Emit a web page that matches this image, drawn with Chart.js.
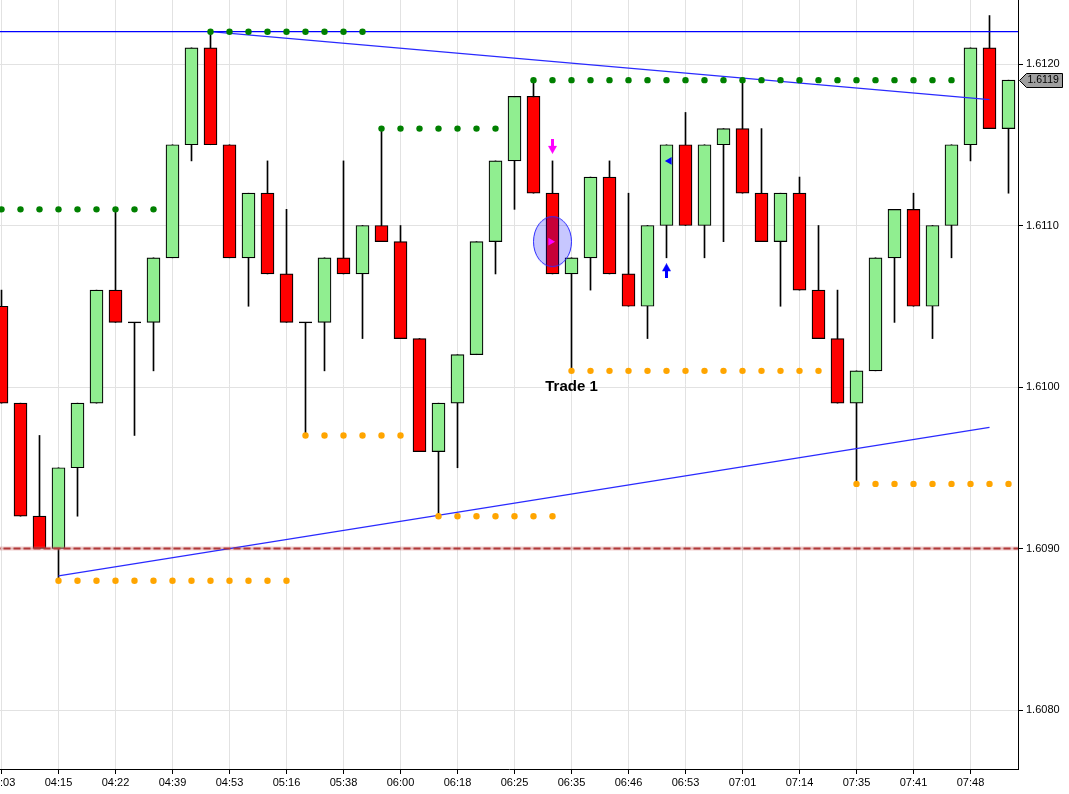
<!DOCTYPE html>
<html>
<head>
<meta charset="utf-8">
<script src="https://cdn.jsdelivr.net/npm/chart.js@4.4.1/dist/chart.umd.min.js"></script>
<style>
  html, body { margin: 0; padding: 0; background: #fff; }
  #wrap { position: relative; width: 1069px; height: 794px; }
</style>
</head>
<body>
<div id="wrap"><canvas id="chart"></canvas></div>
<script>
// 7-pip range bars, one entry per bar
const timeLabels = ['04:03', '04:15', '04:22', '04:39', '04:53', '05:16', '05:38', '06:00', '06:18',
                    '06:25', '06:35', '06:46', '06:53', '07:01', '07:14', '07:35', '07:41', '07:48'];
const labelBars = [0, 3, 6, 9, 12, 15, 18, 21, 24, 27, 30, 33, 36, 39, 42, 45, 48, 51];

const opens = [1.6105, 1.6099, 1.6092, 1.6090, 1.6095, 1.6099, 1.6106, 1.6104, 1.6104, 1.6108,
               1.6115, 1.6121, 1.6115, 1.6108, 1.6112, 1.6107, 1.6104, 1.6104, 1.6108, 1.6107,
               1.6110, 1.6109, 1.6103, 1.6096, 1.6099, 1.6102, 1.6109, 1.6114, 1.6118, 1.6112,
               1.6107, 1.6108, 1.6113, 1.6107, 1.6105, 1.6110, 1.6115, 1.6110, 1.6115, 1.6116,
               1.6112, 1.6109, 1.6112, 1.6106, 1.6103, 1.6099, 1.6101, 1.6108, 1.6111, 1.6105,
               1.6110, 1.6115, 1.6121, 1.6116];
const highs = [1.6106, 1.6099, 1.6097, 1.6095, 1.6099, 1.6106, 1.6111, 1.6104, 1.6108, 1.6115,
               1.6121, 1.6122, 1.6115, 1.6112, 1.6114, 1.6111, 1.6104, 1.6108, 1.6114, 1.6110,
               1.6116, 1.6110, 1.6103, 1.6099, 1.6102, 1.6109, 1.6114, 1.6118, 1.6119, 1.6114,
               1.6108, 1.6113, 1.6114, 1.6112, 1.6110, 1.6115, 1.6117, 1.6115, 1.6116, 1.6119,
               1.6116, 1.6112, 1.6113, 1.6110, 1.6106, 1.6101, 1.6108, 1.6111, 1.6112, 1.6110,
               1.6115, 1.6121, 1.6123, 1.6119];
const lows = [1.6099, 1.6092, 1.6090, 1.6088, 1.6092, 1.6099, 1.6104, 1.6097, 1.6101, 1.6108,
              1.6114, 1.6115, 1.6108, 1.6105, 1.6107, 1.6104, 1.6097, 1.6101, 1.6107, 1.6103,
              1.6109, 1.6103, 1.6096, 1.6092, 1.6095, 1.6102, 1.6107, 1.6111, 1.6112, 1.6107,
              1.6101, 1.6106, 1.6107, 1.6105, 1.6103, 1.6108, 1.6110, 1.6108, 1.6109, 1.6112,
              1.6109, 1.6105, 1.6106, 1.6103, 1.6099, 1.6094, 1.6101, 1.6104, 1.6105, 1.6103,
              1.6108, 1.6114, 1.6116, 1.6112];
const closes = [1.6099, 1.6092, 1.6090, 1.6095, 1.6099, 1.6106, 1.6104, 1.6104, 1.6108, 1.6115,
                1.6121, 1.6115, 1.6108, 1.6112, 1.6107, 1.6104, 1.6104, 1.6108, 1.6107, 1.6110,
                1.6109, 1.6103, 1.6096, 1.6099, 1.6102, 1.6109, 1.6114, 1.6118, 1.6112, 1.6107,
                1.6108, 1.6113, 1.6107, 1.6105, 1.6110, 1.6115, 1.6110, 1.6115, 1.6116, 1.6112,
                1.6109, 1.6112, 1.6106, 1.6103, 1.6099, 1.6101, 1.6108, 1.6111, 1.6105, 1.6110,
                1.6115, 1.6121, 1.6116, 1.6119];

// swing high / swing low dotted levels
const resStart = [0, 11, 20, 28];
const resEnd   = [8, 19, 26, 50];
const resLevel = [1.6111, 1.6122, 1.6116, 1.6119];
const supStart = [3, 16, 23, 30, 45];
const supEnd   = [15, 21, 29, 43, 53];
const supLevel = [1.6088, 1.6097, 1.6092, 1.6101, 1.6094];

// drawn lines
const topLevel = 1.6122;
const dashLevel = 1.6090;
const upperTrend = [{x: 11, y: 1.6122}, {x: 52, y: 1.61178}];
const lowerTrend = [{x: 3, y: 1.60883}, {x: 52, y: 1.60975}];

// trade markers
const shortSignal = {x: 29, y: 1.61149};
const entryMark = {x: 28.9, y: 1.6109};
const entryZone = {x: 29, y: 1.6109};
const longSignal = {x: 35, y: 1.61072};
const exitMark = {x: 35.15, y: 1.6114};
const tradeText = 'Trade 1';
const tradePos = {x: 30, y: 1.6100};

const yTicks = [1.6080, 1.6090, 1.6100, 1.6110, 1.6120];
const yMin = 1.6076347, yMax = 1.6123963;

const FONT = '"Liberation Sans", Arial, sans-serif';
Chart.defaults.font.family = FONT;
Chart.defaults.font.size = 11;
Chart.defaults.color = '#000';

const bars = opens.map((_, i) => i);
const bodyColors = bars.map(i => closes[i] >= opens[i] ? '#90ee90' : '#ff0000');

function dotPoints(starts, ends, levels) {
  const pts = [];
  starts.forEach((s, j) => {
    for (let k = s; k <= ends[j]; k++) pts.push({x: k, y: levels[j]});
  });
  return pts;
}

function arrowImg(color, up) {
  const c = document.createElement('canvas');
  c.width = 9; c.height = 15;
  const g = c.getContext('2d');
  g.fillStyle = color;
  if (up) { g.translate(0, 15); g.scale(1, -1); }
  g.fillRect(3, 0, 3, 8);
  g.beginPath(); g.moveTo(0, 7); g.lineTo(9, 7); g.lineTo(4.5, 15); g.closePath(); g.fill();
  return c;
}

function ellipseImg() {
  const c = document.createElement('canvas');
  c.width = 41; c.height = 53;
  const g = c.getContext('2d');
  g.beginPath();
  g.ellipse(20.5, 26.5, 19, 25, 0, 0, Math.PI * 2);
  g.fillStyle = 'rgba(0, 0, 255, 0.22)';
  g.fill();
  g.strokeStyle = '#2a2aff';
  g.lineWidth = 1;
  g.stroke();
  return c;
}

function marker(pt, style, color, rotation, order) {
  return {
    type: 'line', data: [pt], showLine: false, order: order,
    pointStyle: style, pointRadius: 4.5, pointRotation: rotation || 0,
    pointBackgroundColor: color, pointBorderColor: color, pointBorderWidth: 0
  };
}

function flatLine(level, color, width, dash, order) {
  return {
    type: 'line', data: [{x: -2, y: level}, {x: 60, y: level}], order: order,
    borderColor: color, borderWidth: width, borderDash: dash || [], pointRadius: 0
  };
}

const overlay = {
  id: 'overlay',
  afterDatasetsDraw(chart) {
    const {ctx, scales: {x, y}} = chart;
    ctx.save();
    ctx.font = 'bold 15px ' + FONT;
    ctx.fillStyle = '#000';
    ctx.textAlign = 'center';
    ctx.textBaseline = 'middle';
    ctx.fillText(tradeText, x.getPixelForValue(tradePos.x), y.getPixelForValue(tradePos.y));
    ctx.restore();
  },
  afterDraw(chart) {
    // last price tag on the price axis
    const {ctx, chartArea, scales: {y}} = chart;
    const last = closes[closes.length - 1];
    const py = Math.round(y.getPixelForValue(last)) + 0.5;
    const x0 = chartArea.right + 1.5;
    ctx.save();
    ctx.beginPath();
    ctx.moveTo(x0, py);
    ctx.lineTo(x0 + 7, py - 7);
    ctx.lineTo(x0 + 43, py - 7);
    ctx.lineTo(x0 + 43, py + 7);
    ctx.lineTo(x0 + 7, py + 7);
    ctx.closePath();
    ctx.fillStyle = '#a0a0a0';
    ctx.fill();
    ctx.strokeStyle = '#000';
    ctx.lineWidth = 1;
    ctx.stroke();
    ctx.fillStyle = '#000';
    ctx.font = '10.5px ' + FONT;
    ctx.textAlign = 'left';
    ctx.textBaseline = 'middle';
    ctx.fillText(last.toFixed(4), x0 + 8, py);
    ctx.restore();
  }
};

new Chart(document.getElementById('chart'), {
  type: 'bar',
  data: {
    datasets: [
      {
        label: 'wicks', order: 10, grouped: false,
        data: bars.map(i => ({x: i, y: [lows[i], highs[i]]})),
        backgroundColor: '#000', borderWidth: 0, barThickness: 1
      },
      {
        label: 'bodies', order: 9, grouped: false,
        data: bars.map(i => ({x: i, y: [opens[i], closes[i]]})),
        backgroundColor: bodyColors, borderColor: '#000', borderWidth: 1.2,
        borderSkipped: false, barThickness: 13
      },
      {
        label: 'doji', type: 'line', showLine: false, order: 8,
        data: bars.filter(i => opens[i] === closes[i]).map(i => ({x: i, y: opens[i]})),
        pointStyle: 'line', pointRadius: 6.5, pointBorderColor: '#000', pointBorderWidth: 1.3
      },
      flatLine(dashLevel, 'rgba(205, 110, 110, 0.35)', 4, null, 6),
      flatLine(dashLevel, '#b03838', 2, [7, 3], 5),
      flatLine(topLevel, '#0000ff', 1.2, null, 5),
      {
        type: 'line', data: upperTrend, order: 5,
        borderColor: '#2a2aff', borderWidth: 1.3, pointRadius: 0
      },
      {
        type: 'line', data: lowerTrend, order: 5,
        borderColor: '#2a2aff', borderWidth: 1.3, pointRadius: 0
      },
      {
        label: 'resistance', type: 'line', showLine: false, order: 4,
        data: dotPoints(resStart, resEnd, resLevel),
        pointRadius: 3.2, pointBackgroundColor: '#008000', pointBorderWidth: 0
      },
      {
        label: 'support', type: 'line', showLine: false, order: 4,
        data: dotPoints(supStart, supEnd, supLevel),
        pointRadius: 3.2, pointBackgroundColor: '#ffa500', pointBorderWidth: 0
      },
      marker(entryZone, ellipseImg(), '#00f', 0, 3),
      marker(entryMark, 'triangle', '#ff00ff', 90, 2),
      marker(shortSignal, arrowImg('#ff00ff', false), '#ff00ff', 0, 2),
      marker(longSignal, arrowImg('#0000ff', true), '#0000ff', 0, 2),
      marker(exitMark, 'triangle', '#0000ff', -90, 2)
    ]
  },
  options: {
    responsive: true,
    maintainAspectRatio: false,
    animation: false,
    layout: { padding: 0, autoPadding: false },
    plugins: { legend: { display: false }, tooltip: { enabled: false } },
    scales: {
      x: {
        type: 'linear',
        min: -1.5 / 19,
        max: 1016.5 / 19,
        offset: false,
        grid: { offset: false, color: '#e2e2e2', tickColor: '#000', tickLength: 5 },
        border: { color: '#000', width: 1 },
        ticks: {
          autoSkip: false, maxRotation: 0, padding: 2,
          callback: (v, i) => timeLabels[i]
        },
        afterBuildTicks: s => { s.ticks = labelBars.map(v => ({value: v})); },
        afterFit: s => { s.height = 25; s.paddingLeft = 0; s.paddingRight = 0; }
      },
      y: {
        position: 'right',
        min: yMin,
        max: yMax,
        grid: { color: '#e2e2e2', tickColor: '#000', tickLength: 5 },
        border: { color: '#000', width: 1 },
        ticks: { padding: 3, callback: v => v.toFixed(4) },
        afterBuildTicks: s => { s.ticks = yTicks.map(v => ({value: v})); },
        afterFit: s => { s.width = 51; s.paddingTop = 0; s.paddingBottom = 0; }
      }
    }
  },
  plugins: [overlay]
});
</script>
</body>
</html>
